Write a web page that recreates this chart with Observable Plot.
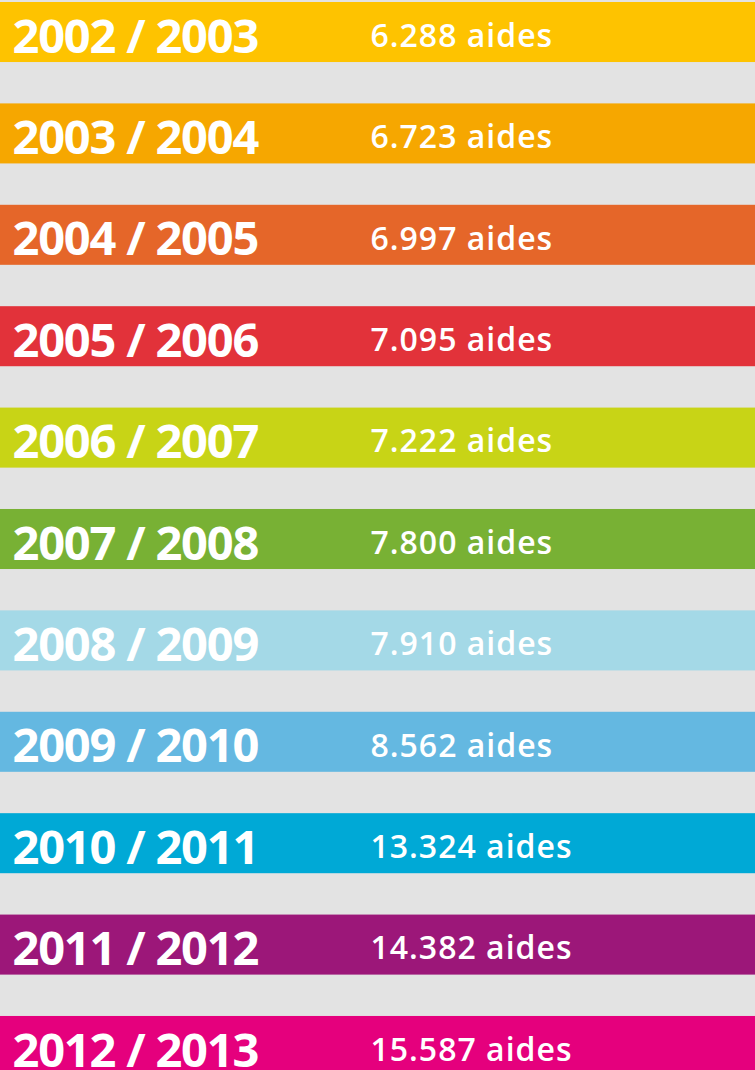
<!DOCTYPE html>
<html>
<head>
<meta charset="utf-8">
<script src="https://cdn.jsdelivr.net/npm/d3@7"></script>
<script src="https://cdn.jsdelivr.net/npm/@observablehq/plot@0.6"></script>
<style>
  html, body { margin: 0; padding: 0; background: #e3e3e3; overflow: hidden; }
  #chart svg { display: block; }
</style>
</head>
<body>
<div id="chart"></div>
<script>
const seasons = ["2002 / 2003", "2003 / 2004", "2004 / 2005", "2005 / 2006", "2006 / 2007", "2007 / 2008", "2008 / 2009", "2009 / 2010", "2010 / 2011", "2011 / 2012", "2012 / 2013"];
const aides = [6288, 6723, 6997, 7095, 7222, 7800, 7910, 8562, 13324, 14382, 15587];
const colors = ["#fec300", "#f6a700", "#e56629", "#e2323a", "#c8d416", "#78b134", "#a4d9e7", "#64b8e1", "#00a9d6", "#9c1779", "#e5007d"];

const fmt = d3.formatLocale({decimal: ",", thousands: ".", grouping: [3], currency: ["", ""]}).format(",d");
const data = seasons.map((s, i) => ({season: s, aides: aides[i], label: fmt(aides[i]) + " aides"}));

const W = 755, H = 1070;
const chart = Plot.plot({
  width: W,
  height: H,
  margin: 0,
  style: {background: "#e3e3e3", fontFamily: "'Open Sans', sans-serif", overflow: "hidden"},
  x: {axis: null},
  y: {type: "band", domain: seasons, range: [2, 1076], paddingInner: 0.408, paddingOuter: 0, align: 0, round: false, axis: null},
  color: {domain: seasons, range: colors},
  marks: [
    Plot.cell(data, {y: "season", fill: "season"}),
    Plot.text(data, {y: "season", text: "season", frameAnchor: "left", textAnchor: "start", dx: 12, dy: 5,
      fill: "white", fontSize: 47, fontWeight: 700}),
    Plot.text(data, {y: "season", text: "label", frameAnchor: "left", textAnchor: "start", dx: 370, dy: 4,
      fill: "white", fontSize: 32, fontWeight: 600})
  ]
});
const textGroups = chart.querySelectorAll('g[aria-label="text"]');
if (textGroups[0]) textGroups[0].style.letterSpacing = "-1.2px";
if (textGroups[1]) textGroups[1].style.letterSpacing = "1px";
document.getElementById("chart").appendChild(chart);
</script>
</body>
</html>
